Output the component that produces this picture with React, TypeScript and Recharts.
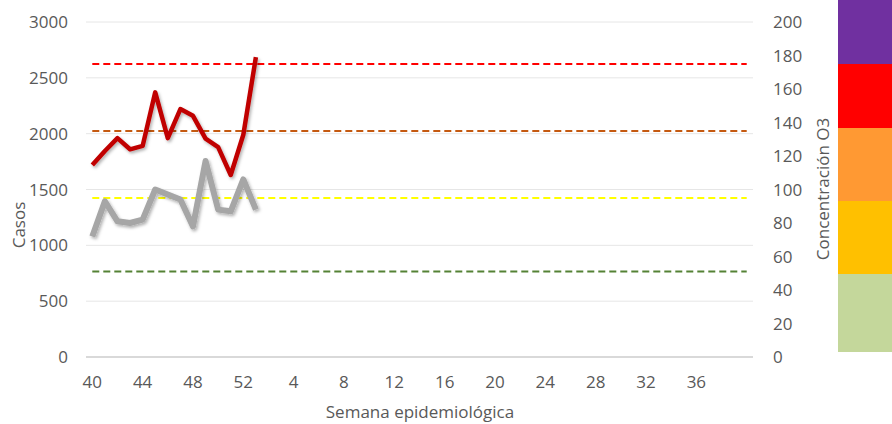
import React from 'react';
import { CartesianGrid, Line, LineChart, XAxis, YAxis } from 'recharts';

// semanas epidemiológicas (40-52 de un año, 1-40 del siguiente)
const semanas = [
  40, 41, 42, 43, 44, 45, 46, 47, 48, 49, 50, 51, 52,
  1, 2, 3, 4, 5, 6, 7, 8, 9, 10, 11, 12, 13, 14, 15, 16, 17, 18, 19, 20,
  21, 22, 23, 24, 25, 26, 27, 28, 29, 30, 31, 32, 33, 34, 35, 36, 37, 38, 39, 40,
];

const casos = [1720, 1845, 1960, 1860, 1890, 2370, 1960, 2220, 2160, 1955, 1880, 1630, 1990, 2685];
const ozono = [72, 93, 81, 80, 82, 100, 97, 94, 78, 117, 88, 87, 106, 88];

// umbrales de concentración de O3
const umbrales = [51, 95, 135, 175];
const umbralColores = ['#548235', '#FFFF00', '#C55A11', '#FF0000'];

const casosTicks = [0, 500, 1000, 1500, 2000, 2500, 3000];
const o3Ticks = [0, 20, 40, 60, 80, 100, 120, 140, 160, 180, 200];
const semanaTicks = [0, 4, 8, 12, 16, 20, 24, 28, 32, 36, 40, 44, 48];

const data = semanas.map((s, i) => {
  const row: Record<string, number | undefined> = { i, semana: s, casos: casos[i], ozono: ozono[i] };
  umbrales.forEach((u, k) => {
    row[`u${k}`] = u;
  });
  return row;
});

const escala = [
  { color: '#7030A0', top: 0, h: 64 },
  { color: '#FF0000', top: 64, h: 64 },
  { color: '#FF9933', top: 128, h: 73 },
  { color: '#FFC000', top: 201, h: 73 },
  { color: '#C4D79B', top: 274, h: 78 },
];

const FONT = '"Open Sans", sans-serif';
const tickStyle = { fill: '#595959', fontSize: 17, fontFamily: FONT };

const titulo = (text: string, cx: number, cy: number, rot = false) => (
  <div
    style={{
      position: 'absolute',
      left: cx,
      top: cy,
      transform: `translate(-50%, -50%)${rot ? ' rotate(-90deg)' : ''}`,
      whiteSpace: 'nowrap',
      fontFamily: FONT,
      fontSize: 17,
      color: '#595959',
    }}
  >
    {text}
  </div>
);

const App = () => {
  return (
    <div style={{ position: 'absolute', left: 0, top: 0, width: 892, height: 424, background: '#fff' }}>
      <LineChart width={892} height={424} data={data} margin={{ top: 22, right: 79, bottom: 27, left: 0 }}>
        <defs>
          <filter id="sombra" x="-10%" y="-10%" width="130%" height="130%">
            <feDropShadow dx="1.5" dy="2" stdDeviation="1.5" floodColor="#000" floodOpacity="0.3" />
          </filter>
        </defs>
        <CartesianGrid vertical={false} stroke="#e6e6e6" />
        <XAxis
          dataKey="i"
          type="number"
          domain={[-0.5, 52.5]}
          ticks={semanaTicks}
          tickFormatter={(v) => String(semanas[v])}
          tick={tickStyle}
          tickLine={false}
          axisLine={{ stroke: '#d9d9d9', strokeWidth: 2 }}
          tickMargin={13}
          height={40}
          interval={0}
        />
        <YAxis
          domain={[0, 3000]}
          ticks={casosTicks}
          tick={tickStyle}
          tickLine={false}
          axisLine={false}
          tickMargin={12}
          width={86}
          interval={0}
        />
        <YAxis
          yAxisId="right"
          orientation="right"
          domain={[0, 200]}
          ticks={o3Ticks}
          tick={{ ...tickStyle, textAnchor: 'start' }}
          tickLine={false}
          axisLine={false}
          tickMargin={14}
          width={60}
          interval={0}
        />
        {umbrales.map((u, k) => (
          <Line
            key={u}
            yAxisId="right"
            dataKey={`u${k}`}
            stroke={umbralColores[k]}
            strokeWidth={2}
            strokeDasharray="7 4"
            dot={false}
            activeDot={false}
            isAnimationActive={false}
          />
        ))}
        <Line
          yAxisId="right"
          dataKey="ozono"
          stroke="#A6A6A6"
          strokeWidth={6}
          strokeLinejoin="round"
          dot={false}
          activeDot={false}
          filter="url(#sombra)"
          isAnimationActive={false}
        />
        <Line
          dataKey="casos"
          stroke="#C00000"
          strokeWidth={4.5}
          strokeLinejoin="round"
          dot={false}
          activeDot={false}
          filter="url(#sombra)"
          isAnimationActive={false}
        />
      </LineChart>
      {titulo('Casos', 18, 225, true)}
      {titulo('Concentración O3', 822, 189, true)}
      {titulo('Semana epidemiológica', 420, 411)}
      {escala.map((e) => (
        <div
          key={e.color}
          style={{ position: 'absolute', left: 838, top: e.top, width: 54, height: e.h, background: e.color }}
        />
      ))}
    </div>
  );
};

export default App;
